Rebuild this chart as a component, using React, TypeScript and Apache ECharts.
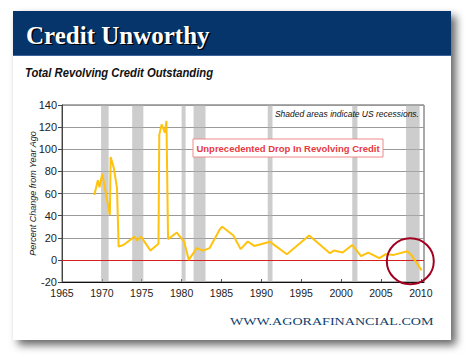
import React, { useEffect, useRef } from "react";
import * as echarts from "echarts";

const years = [
  1969.05, 1969.5, 1969.7, 1970.05, 1971.0, 1971.1, 1971.5, 1971.9, 1972.1, 1972.7,
  1974.1, 1974.4, 1974.9, 1976.1, 1977.1, 1977.2, 1977.5, 1977.9, 1978.1, 1978.3,
  1979.4, 1980.3, 1980.9, 1981.9, 1982.7, 1983.5, 1984.8, 1985.1, 1986.5, 1987.4,
  1988.3, 1989.1, 1991.1, 1993.2, 1996.0, 1998.6, 1999.1, 2000.2, 2001.4, 2002.5,
  2003.4, 2004.8, 2005.6, 2006.6, 2008.3, 2008.8, 2010.1,
];
const values = [
  58.7, 72, 65.7, 78, 40.6, 93, 83, 64.7, 12, 13.5,
  21, 17.5, 21, 8.4, 14.5, 113, 122.5, 115, 125.6, 18.7,
  24.7, 16.6, 0, 10.6, 8.4, 10.6, 27.7, 30, 22, 9.7,
  16.6, 12.6, 16.3, 5.1, 22, 6, 8.4, 6.6, 13.5, 3.3,
  6.6, 1.5, 5.2, 4.5, 7.8, 4.5, -9.5,
];
const recessionStarts = [1969.9, 1973.8, 1980.0, 1981.5, 1990.8, 2001.4, 2008.15];
const recessionEnds = [1970.85, 1975.2, 1980.5, 1983.0, 1991.4, 2002.05, 2009.85];
const yTicks = { min: -20, max: 140, interval: 20 };
const xTicks = { min: 1965, max: 2010.4, interval: 5 };

const TITLE = "Credit Unworthy";
const SUBTITLE = "Total Revolving Credit Outstanding";
const NOTE = "Shaded areas indicate US recessions.";
const CALLOUT = "Unprecedented Drop In Revolving Credit";
const Y_NAME = "Percent Change from Year Ago";
const FOOTER = "WWW.AGORAFINANCIAL.COM";

export default function App() {
  const ref = useRef<HTMLDivElement>(null);
  useEffect(() => {
    if (!ref.current) return;
    const chart = echarts.init(ref.current, undefined, { renderer: "svg" });
    const data = years.map((y, i) => [y, values[i]]);
    const bands = recessionStarts.map((s, i) => [{ xAxis: s }, { xAxis: recessionEnds[i] }]);
    chart.setOption({
      animation: false,
      backgroundColor: "#ffffff",
      grid: {
        left: 62,
        right: 46,
        top: 105,
        bottom: 77,
        show: true,
        borderColor: "#555",
        borderWidth: 1,
        backgroundColor: "transparent",
      },
      xAxis: {
        type: "value",
        min: xTicks.min,
        max: xTicks.max,
        interval: xTicks.interval,
        axisLine: { show: true, onZero: false, lineStyle: { color: "#111", width: 1 } },
        axisTick: { show: true, inside: true, length: 3, lineStyle: { color: "#555" } },
        splitLine: { show: false },
        axisLabel: {
          color: "#222",
          fontSize: 10.5,
          fontFamily: "Liberation Sans",
          margin: 5,
          showMaxLabel: false,
          formatter: (v: number) => (Math.abs(v % 5) < 1e-6 ? String(v) : ""),
        },
      },
      yAxis: {
        type: "value",
        min: yTicks.min,
        max: yTicks.max,
        interval: yTicks.interval,
        name: Y_NAME,
        nameLocation: "middle",
        nameRotate: 90,
        nameGap: 25,
        nameMoveOverlap: false,
        nameTextStyle: { fontStyle: "italic", fontSize: 9, color: "#222", fontFamily: "Liberation Sans" },
        axisLine: { show: true, lineStyle: { color: "#444", width: 1 } },
        axisTick: { show: true, length: 4, lineStyle: { color: "#444" } },
        splitLine: { show: true, lineStyle: { color: "#999", width: 1 } },
        axisLabel: { color: "#222", fontSize: 11, fontFamily: "Liberation Sans", margin: 5 },
      },
      series: [
        {
          type: "line",
          data,
          symbol: "none",
          lineStyle: { color: "#FFC20E", width: 2 },
          z: 5,
          markArea: {
            silent: true,
            itemStyle: { color: "rgba(175,175,175,0.62)" },
            data: bands,
          },
          markLine: {
            silent: true,
            symbol: "none",
            label: { show: false },
            lineStyle: { color: "#d42020", width: 1, type: "solid" },
            data: [{ yAxis: 0 }],
          },
        },
      ],
      graphic: [
        {
          type: "rect",
          z: -10,
          shape: { x: 13, y: 11, width: 438, height: 329 },
          style: {
            fill: "#fff",
            shadowBlur: 9,
            shadowOffsetX: 5,
            shadowOffsetY: 5,
            shadowColor: "rgba(0,0,0,0.6)",
          },
        },
        {
          type: "rect",
          z: -5,
          shape: { x: 13, y: 11, width: 438, height: 45 },
          style: { fill: "#05356a" },
        },
        {
          type: "rect",
          z: -5,
          shape: { x: 13, y: 55, width: 438, height: 1 },
          style: { fill: "#3a6499" },
        },
        {
          type: "text",
          z: 50,
          x: 27.5,
          y: 36.5,
          style: {
            text: TITLE,
            fill: "#000",
            font: '600 25px "Liberation Serif"',
            textVerticalAlign: "middle",
          },
        },
        {
          type: "text",
          z: 51,
          x: 26,
          y: 35,
          style: {
            text: TITLE,
            fill: "#fff",
            font: '600 25px "Liberation Serif"',
            textVerticalAlign: "middle",
          },
        },
        {
          type: "text",
          z: 51,
          x: 25,
          y: 73,
          scaleX: 0.9,
          style: {
            text: SUBTITLE,
            fill: "#111",
            font: 'italic bold 12.5px "Liberation Sans"',
            textVerticalAlign: "middle",
          },
        },
        {
          type: "text",
          z: 51,
          x: 419,
          y: 114,
          style: {
            text: NOTE,
            fill: "#111",
            font: 'italic 8.5px "Liberation Sans"',
            textAlign: "right",
            textVerticalAlign: "middle",
          },
        },
        {
          type: "rect",
          z: 60,
          shape: { x: 193, y: 139, width: 190, height: 18 },
          style: { fill: "#fff", stroke: "#f08a8a", lineWidth: 1 },
        },
        {
          type: "text",
          z: 61,
          x: 288,
          y: 148,
          style: {
            text: CALLOUT,
            fill: "#e63a3f",
            font: 'bold 9.5px "Liberation Sans"',
            textAlign: "center",
            textVerticalAlign: "middle",
          },
        },
        {
          type: "ellipse",
          z: 60,
          shape: { cx: 410.3, cy: 261.3, rx: 23.5, ry: 23 },
          style: { fill: "none", stroke: "#a3001f", lineWidth: 2 },
        },
        {
          type: "text",
          z: 51,
          x: 230,
          y: 322,
          scaleX: 1.28,
          style: {
            text: FOOTER,
            fill: "#123f6e",
            font: '11px "Liberation Serif"',
            textVerticalAlign: "middle",
          },
        },
      ],
    });
    return () => chart.dispose();
  }, []);
  return (
    <div
      ref={ref}
      style={{ position: "fixed", left: 0, top: 0, width: 470, height: 359 }}
    />
  );
}
